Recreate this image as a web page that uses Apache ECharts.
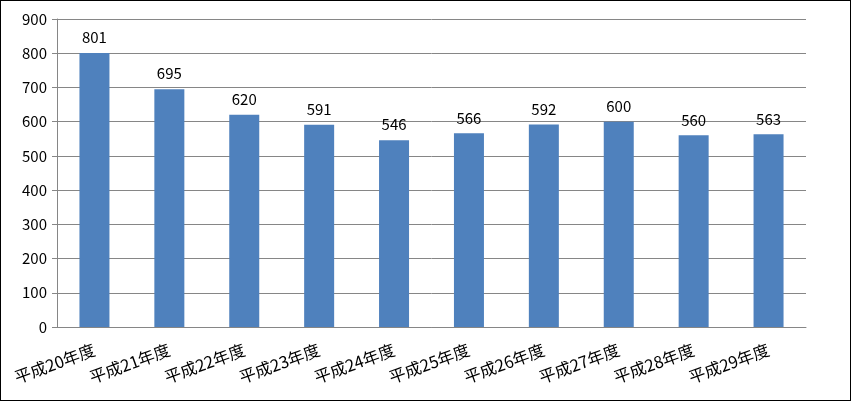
<!DOCTYPE html>
<html>
<head>
<meta charset="utf-8">
<script src="https://cdn.jsdelivr.net/npm/echarts@6/dist/echarts.min.js"></script>
<style>
  html, body { margin: 0; padding: 0; background: #fff; }
  #chart { width: 851px; height: 401px; box-sizing: border-box; border: 1px solid #000; }
</style>
</head>
<body>
<div id="chart"></div>
<script>
const categories = ['平成20年度', '平成21年度', '平成22年度', '平成23年度', '平成24年度',
  '平成25年度', '平成26年度', '平成27年度', '平成28年度', '平成29年度']
const values = [801, 695, 620, 591, 546, 566, 592, 600, 560, 563]

const font = '"Noto Sans CJK JP", "Noto Sans", sans-serif'
const gray = '#868686'

const chart = echarts.init(document.getElementById('chart'))
chart.setOption({
  animation: false,
  backgroundColor: '#fff',
  grid: { left: 56, right: 44, top: 18, bottom: 73 },
  xAxis: {
    type: 'category',
    data: categories,
    axisLine: { lineStyle: { color: gray } },
    axisTick: { alignWithLabel: false, length: 5, lineStyle: { color: gray } },
    axisLabel: { interval: 0, rotate: 20, color: '#000', fontSize: 16.5, fontFamily: font, margin: 22 }
  },
  yAxis: {
    type: 'value',
    min: 0,
    max: 900,
    interval: 100,
    axisLine: { show: true, lineStyle: { color: gray } },
    axisTick: { show: true, length: 5, lineStyle: { color: gray } },
    axisLabel: { color: '#000', fontSize: 15, fontFamily: font, margin: 10 },
    splitLine: { lineStyle: { color: gray } }
  },
  series: [{
    type: 'bar',
    data: values,
    barWidth: 30,
    itemStyle: { color: '#4F81BD' },
    label: { show: true, position: 'top', distance: 8, color: '#000', fontSize: 15, fontFamily: font }
  }]
})
</script>
</body>
</html>
